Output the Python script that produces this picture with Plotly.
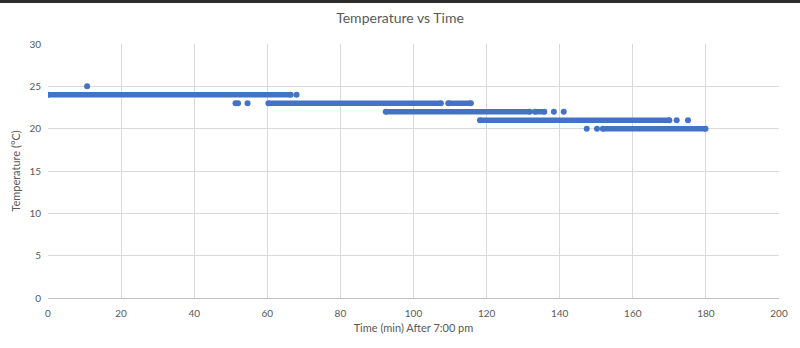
import plotly.graph_objects as go

# Runs of consecutive readings at a constant temperature (minutes after 7:00 pm)
seg_start = [0.0, 60.3, 109.5, 92.4, 133.2, 118.2, 151.8]
seg_end = [66.4, 107.5, 115.7, 131.8, 135.8, 170.0, 179.9]
seg_temp = [24, 23, 23, 22, 22, 21, 20]

# Isolated readings
pt_time = [10.7, 68.0, 51.3, 52.0, 54.6, 138.4, 141.1, 172.0, 175.1, 147.4, 150.2]
pt_temp = [25, 24, 23, 23, 23, 22, 22, 21, 21, 20, 20]

x_ticks = [0, 20, 40, 60, 80, 100, 120, 140, 160, 180, 200]
y_ticks = [0, 5, 10, 15, 20, 25, 30]

BLUE = "#4472C4"
GRAY = "#595959"
FONT = "Lato, 'Open Sans', sans-serif"

lx, ly = [], []
for s, e, t in zip(seg_start, seg_end, seg_temp):
    lx += [s, e, None]
    ly += [t, t, None]

fig = go.Figure()
fig.add_trace(go.Scatter(x=lx, y=ly, mode="lines",
                         line=dict(color=BLUE, width=5.5), hoverinfo="skip"))
fig.add_trace(go.Scatter(x=seg_start + seg_end + pt_time,
                         y=seg_temp + seg_temp + pt_temp,
                         mode="markers",
                         marker=dict(color=BLUE, size=6, line=dict(width=0))))

fig.update_layout(
    width=800, height=348,
    margin=dict(l=48, r=18, t=44, b=50),
    paper_bgcolor="white", plot_bgcolor="white",
    showlegend=False,
    font=dict(family=FONT, color=GRAY, size=10),
    title=dict(text="Temperature vs Time", x=0.5, xanchor="center",
               y=1 - 18 / 348, yanchor="middle",
               font=dict(family=FONT, size=14, color=GRAY)),
    xaxis=dict(range=[0, 200], tickvals=x_ticks, showgrid=True,
               gridcolor="#d9d9d9", gridwidth=1, zeroline=False,
               showline=True, linecolor="#bfbfbf", linewidth=1,
               ticks="", ticklabelstandoff=6,
               tickfont=dict(size=10, color=GRAY),
               title=dict(text="Time (min) After 7:00 pm", standoff=6,
                          font=dict(size=11, color=GRAY))),
    yaxis=dict(range=[0, 30], tickvals=y_ticks, showgrid=True,
               gridcolor="#d9d9d9", gridwidth=1, zeroline=False,
               showline=False, ticks="", ticklen=0, ticklabelstandoff=6,
               tickfont=dict(size=10, color=GRAY),
               title=dict(text="Temperature (°C)", standoff=6,
                          font=dict(size=11, color=GRAY))),
    shapes=[dict(type="rect", xref="paper", yref="paper",
                 x0=-0.1, x1=1.1, y0=1 + 41 / 254, y1=1 + 46 / 254,
                 fillcolor="#2b2b2b", line=dict(width=0), layer="above")],
)

fig.write_html("out.html")
